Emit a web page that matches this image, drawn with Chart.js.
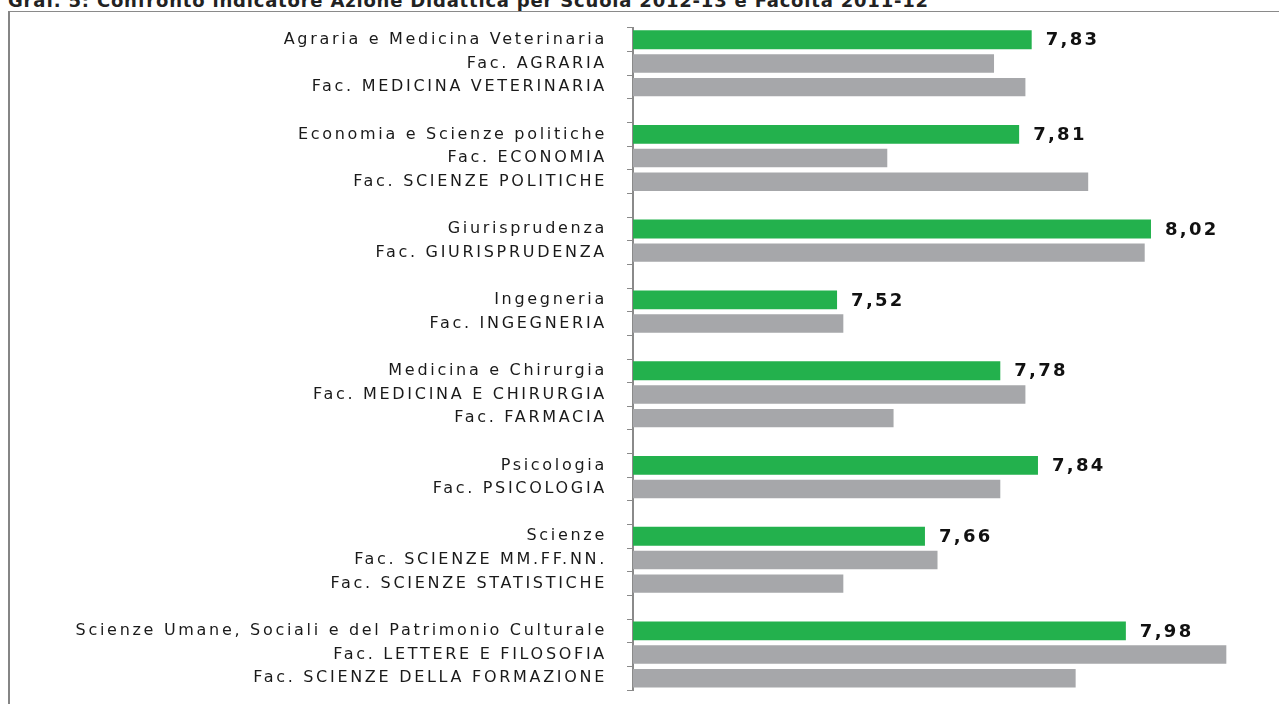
<!DOCTYPE html>
<html>
<head>
<meta charset="utf-8">
<script src="https://cdn.jsdelivr.net/npm/chart.js@4.4.1/dist/chart.umd.min.js"></script>
<style>
  body { margin: 0; background: #fff; overflow: hidden; }
  #wrap { position: relative; width: 1279px; height: 704px; }
  #title {
    position: absolute; left: 8px; top: -8px; white-space: nowrap;
    font: bold 18px "DejaVu Sans", sans-serif; color: #222; line-height: 18px;
    letter-spacing: 0.8px;
  }
  #frame {
    position: absolute; left: 8px; top: 11px; width: 1300px; height: 720px;
    border-left: 2px solid #858585; border-top: 1px solid #8a8a8a;
  }
  #box { position: absolute; left: 0; top: 0; width: 1279px; height: 704px; }
</style>
</head>
<body>
<div id="wrap">
  <div id="title">Graf. 5: Confronto indicatore Azione Didattica per Scuola 2012-13 e Facoltà 2011-12</div>
  <div id="frame"></div>
  <div id="box"><canvas id="c"></canvas></div>
</div>
<script>
// rows top to bottom; "" rows are the gaps between schools
const categories = [
  "Agraria e Medicina Veterinaria", "Fac. AGRARIA", "Fac. MEDICINA VETERINARIA", "",
  "Economia e Scienze politiche", "Fac. ECONOMIA", "Fac. SCIENZE POLITICHE", "",
  "Giurisprudenza", "Fac. GIURISPRUDENZA", "",
  "Ingegneria", "Fac. INGEGNERIA", "",
  "Medicina e Chirurgia", "Fac. MEDICINA E CHIRURGIA", "Fac. FARMACIA", "",
  "Psicologia", "Fac. PSICOLOGIA", "",
  "Scienze", "Fac. SCIENZE MM.FF.NN.", "Fac. SCIENZE STATISTICHE", "",
  "Scienze Umane, Sociali e del Patrimonio Culturale", "Fac. LETTERE E FILOSOFIA", "Fac. SCIENZE DELLA FORMAZIONE"
];

// Scuola 2012-13
const scuola = [
  7.83, null, null, null,
  7.81, null, null, null,
  8.02, null, null,
  7.52, null, null,
  7.78, null, null, null,
  7.84, null, null,
  7.66, null, null, null,
  7.98, null, null
];

// Facoltà 2011-12
const facolta = [
  null, 7.77, 7.82, null,
  null, 7.60, 7.92, null,
  null, 8.01, null,
  null, 7.53, null,
  null, 7.82, 7.61, null,
  null, 7.78, null,
  null, 7.68, 7.53, null,
  null, 8.14, 7.90
];

const axisMin = 7.195;
const axisMax = 8.2;

const valueLabels = {
  id: "valueLabels",
  afterDatasetsDraw(chart) {
    const ctx = chart.ctx;
    const meta = chart.getDatasetMeta(0);
    ctx.save();
    ctx.font = "bold 18px 'DejaVu Sans', sans-serif";
    ctx.letterSpacing = "2.3px";
    ctx.fillStyle = "#111";
    ctx.textBaseline = "middle";
    ctx.textAlign = "left";
    meta.data.forEach((bar, i) => {
      const v = scuola[i];
      if (v == null) return;
      ctx.fillText(v.toFixed(2).replace(".", ","), bar.x + 14, bar.y + 1);
    });
    ctx.restore();
  }
};

const labelSpacing = {
  id: "labelSpacing",
  beforeDraw(chart) { chart.ctx.letterSpacing = "2.7px"; },
  afterDraw(chart) { chart.ctx.letterSpacing = "0px"; }
};

new Chart(document.getElementById("c"), {
  type: "bar",
  data: {
    labels: categories,
    datasets: [
      { label: "Scuola 2012-13", data: scuola, backgroundColor: "#23b14d", grouped: false,
        barPercentage: 0.8, categoryPercentage: 1 },
      { label: "Facoltà 2011-12", data: facolta, backgroundColor: "#a6a7aa", grouped: false,
        barPercentage: 0.78, categoryPercentage: 1 }
    ]
  },
  options: {
    indexAxis: "y",
    responsive: true,
    maintainAspectRatio: false,
    animation: false,
    layout: { padding: { top: 28, bottom: 14, right: 15, left: 0 } },
    plugins: { legend: { display: false }, tooltip: { enabled: false } },
    scales: {
      x: { display: false, min: axisMin, max: axisMax },
      y: {
        afterFit(scale) {
          scale.width = 633;
          scale.paddingTop = 0;
          scale.paddingBottom = 0;
        },
        grid: { offset: true, drawOnChartArea: false, drawTicks: true, tickLength: 6, color: "#8a8a8a" },
        border: { color: "#8a8a8a", width: 2 },
        ticks: {
          autoSkip: false, padding: 20, color: "#1a1a1a",
          font: { family: "'DejaVu Sans', sans-serif", size: 16 }
        }
      }
    }
  },
  plugins: [labelSpacing, valueLabels]
});
</script>
</body>
</html>
